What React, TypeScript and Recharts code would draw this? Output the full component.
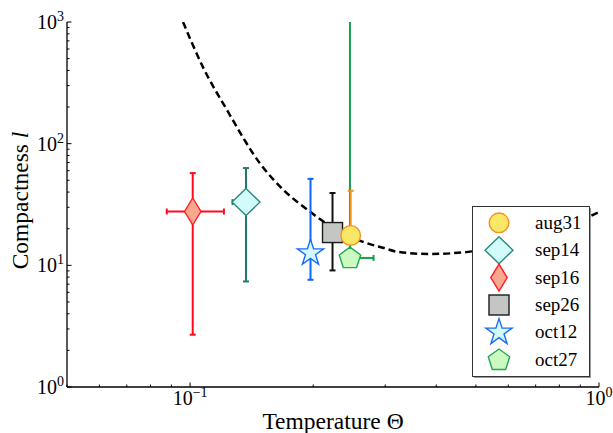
import React from 'react';
import { ComposedChart, Line, Scatter, XAxis, YAxis, ErrorBar, Legend } from 'recharts';

// ---- data ----
const seriesNames = ['aug31', 'sep14', 'sep16', 'sep26', 'oct12', 'oct27'];
const temperature = [0.247, 0.137, 0.1015, 0.223, 0.197, 0.246];
const compactness = [17.6, 33.1, 27.7, 18.6, 12.6, 11.5];
const temperatureLow = [0.247, 0.127, 0.0877, 0.223, 0.197, 0.246];
const temperatureHigh = [0.247, 0.142, 0.121, 0.223, 0.197, 0.281];
const compactnessLow = [17.6, 7.37, 2.69, 9.08, 7.61, 11.5];
const compactnessHigh = [41.0, 63.0, 57.3, 39.3, 51.4, 1000];

const curveTemperature = [0.0961, 0.1078, 0.123, 0.148, 0.169, 0.1965, 0.2114, 0.265, 0.296, 0.3225, 0.386, 0.478, 0.6, 0.75, 0.967, 1.0];
const curveCompactness = [1000, 418, 190, 69.3, 41.8, 27.6, 23, 15.6, 13.95, 12.9, 12.4, 12.9, 15, 18.5, 26, 27.5];

const xTicks = [0.05, 0.06, 0.07, 0.08, 0.09, 0.1, 0.2, 0.3, 0.4, 0.5, 0.6, 0.7, 0.8, 0.9, 1];
const xMajor = [0.1, 1];
const xMajorLabels = ['\u22121', '0'];
const yTicks = [1, 2, 3, 4, 5, 6, 7, 8, 9, 10, 20, 30, 40, 50, 60, 70, 80, 90, 100, 200, 300, 400, 500, 600, 700, 800, 900, 1000];
const yMajor = [1, 10, 100, 1000];
const yMajorLabels = ['0', '1', '2', '3'];

const xLabelText = 'Temperature \u0398';
const yLabelText = 'Compactness ';
const yLabelSymbol = 'l';

// render order (z-order) and legend order
const drawOrder = ['sep14', 'sep16', 'sep26', 'oct12', 'oct27', 'aug31'];
const legendOrder = ['aug31', 'sep14', 'sep16', 'sep26', 'oct12', 'oct27'];

// ---- styles ----
const FONT = '"Liberation Serif", serif';
const styles: Record<string, { kind: string; fill: string; stroke: string; bar: string; capY: number }> = {
  aug31: { kind: 'circle', fill: '#f9e866', stroke: '#f5921e', bar: '#f5921e', capY: 3 },
  sep14: { kind: 'diamond', fill: '#d2fbfb', stroke: '#2a8a7a', bar: '#1f7a68', capY: 3 },
  sep16: { kind: 'thin_diamond', fill: '#f9a88e', stroke: '#ff1a26', bar: '#ff0a1e', capY: 3 },
  sep26: { kind: 'square', fill: '#c4c6c4', stroke: '#1a1a1a', bar: '#111111', capY: 3 },
  oct12: { kind: 'star', fill: '#d5f8fc', stroke: '#1a6cf5', bar: '#0a66ff', capY: 3 },
  oct27: { kind: 'pentagon', fill: '#ccf9c0', stroke: '#1fa855', bar: '#14a04c', capY: 0 },
};

const curveData = curveTemperature.map((t, i) => ({ t, l: curveCompactness[i] }));
const seriesData: Record<string, any[]> = {};
seriesNames.forEach((name, i) => {
  seriesData[name] = [
    {
      t: temperature[i],
      l: compactness[i],
      ex: [temperature[i] - temperatureLow[i], temperatureHigh[i] - temperature[i]],
      ey: [compactness[i] - compactnessLow[i], compactnessHigh[i] - compactness[i]],
    },
  ];
});

function polyPoints(cx: number, cy: number, n: number, R: number, r?: number) {
  const pts: string[] = [];
  const count = r ? n * 2 : n;
  for (let k = 0; k < count; k++) {
    const a = -Math.PI / 2 + (k * Math.PI * 2) / count;
    const rad = r && k % 2 === 1 ? r : R;
    pts.push(`${cx + rad * Math.cos(a)},${cy + rad * Math.sin(a)}`);
  }
  return pts.join(' ');
}

function Marker({ kind, cx, cy, fill, stroke }: { kind: string; cx: number; cy: number; fill: string; stroke: string }) {
  const sw = 1.4;
  switch (kind) {
    case 'circle':
      return <circle cx={cx} cy={cy} r={9.8} fill={fill} stroke={stroke} strokeWidth={sw} />;
    case 'diamond':
      return <polygon points={`${cx},${cy - 13.5} ${cx + 14},${cy} ${cx},${cy + 13.5} ${cx - 14},${cy}`} fill={fill} stroke={stroke} strokeWidth={sw} />;
    case 'thin_diamond':
      return <polygon points={`${cx},${cy - 13.5} ${cx + 8.2},${cy} ${cx},${cy + 13.5} ${cx - 8.2},${cy}`} fill={fill} stroke={stroke} strokeWidth={sw} />;
    case 'square':
      return <rect x={cx - 10} y={cy - 10} width={20} height={20} fill={fill} stroke={stroke} strokeWidth={sw} />;
    case 'star':
      return <polygon points={polyPoints(cx, cy, 5, 13.8, 13.8 * 0.382)} fill={fill} stroke={stroke} strokeWidth={sw} strokeLinejoin="miter" />;
    case 'pentagon':
      return <polygon points={polyPoints(cx, cy + 0.5, 5, 11.3)} fill={fill} stroke={stroke} strokeWidth={sw} />;
    default:
      return null;
  }
}

function findIdx(arr: number[], v: number) {
  return arr.findIndex((m) => Math.abs(m - v) < 1e-9);
}

const textStyle = { fontFamily: FONT };

function XTick(props: any) {
  const { x, y, payload, side } = props;
  const v = payload.value;
  const idx = findIdx(xMajor, v);
  const major = idx >= 0;
  const len = major ? 4.5 : 2.5;
  const dir = side === 'bottom' ? -1 : 1;
  return (
    <g>
      <line x1={x} y1={y} x2={x} y2={y + dir * len} stroke="#000" strokeWidth={1} />
      {side === 'bottom' && major && (
        <text x={x} y={y + 18} textAnchor="middle" style={textStyle} fontSize={20} fill="#000">
          10
          <tspan dy={-8} fontSize={14}>{xMajorLabels[idx]}</tspan>
        </text>
      )}
    </g>
  );
}

function YTick(props: any) {
  const { x, y, payload, side } = props;
  const v = payload.value;
  const idx = findIdx(yMajor, v);
  const major = idx >= 0;
  const len = major ? 4.5 : 2.5;
  const dir = side === 'left' ? 1 : -1;
  return (
    <g>
      <line x1={x} y1={y} x2={x + dir * len} y2={y} stroke="#000" strokeWidth={1} />
      {side === 'left' && major && (
        <text x={x - 3} y={y + 7} textAnchor="end" style={textStyle} fontSize={20} fill="#000">
          10
          <tspan dy={-8} fontSize={14}>{yMajorLabels[idx]}</tspan>
        </text>
      )}
    </g>
  );
}

function XLabel(props: any) {
  const vb = props.viewBox;
  return (
    <text x={vb.x + vb.width / 2} y={vb.y + 42} textAnchor="middle" style={textStyle} fontSize={23.5} fill="#000">
      {xLabelText}
    </text>
  );
}

function YLabel(props: any) {
  const vb = props.viewBox;
  const cx = 28;
  const cy = vb.y + vb.height / 2 - 4;
  return (
    <text x={cx} y={cy} transform={`rotate(-90, ${cx}, ${cy})`} textAnchor="middle" style={textStyle} fontSize={23.5} fill="#000">
      {yLabelText}
      <tspan fontStyle="italic">{yLabelSymbol}</tspan>
    </text>
  );
}

function LegendBox() {
  return (
    <svg width={120} height={173} style={{ display: 'block', overflow: 'visible' }}>
      <rect x={2} y={2} width={117} height={170} fill="#999" />
      <rect x={0.5} y={0.5} width={117} height={170} fill="#fff" stroke="#333" strokeWidth={1} />
      {legendOrder.map((name, i) => {
        const cy = 16.8 + i * 27.4;
        const s = styles[name];
        return (
          <g key={name}>
            <Marker kind={s.kind} cx={27} cy={cy} fill={s.fill} stroke={s.stroke} />
            <text x={63} y={cy + 6} style={textStyle} fontSize={19} fill="#000">
              {name}
            </text>
          </g>
        );
      })}
    </svg>
  );
}

const axisLine = { stroke: '#000', strokeWidth: 1.3 };

export default function App() {
  return (
    <div style={{ position: 'absolute', left: 0, top: 0, width: 613, height: 433, background: '#fff' }}>
      <ComposedChart width={613} height={433} margin={{ top: 22, right: 14, bottom: 0, left: 0 }}>
        <XAxis
          dataKey="t"
          type="number"
          scale="log"
          domain={[0.05, 1]}
          allowDataOverflow
          ticks={xTicks}
          interval={0}
          height={46}
          tickSize={0}
          tickMargin={0}
          axisLine={axisLine}
          tickLine={false}
          tick={(p: any) => <XTick {...p} side="bottom" />}
          label={{ content: XLabel }}
        />
        <XAxis
          xAxisId="top"
          orientation="top"
          dataKey="t"
          type="number"
          scale="log"
          domain={[0.05, 1]}
          allowDataOverflow
          ticks={xTicks}
          interval={0}
          height={0}
          tickSize={0}
          tickMargin={0}
          axisLine={axisLine}
          tickLine={false}
          tick={(p: any) => <XTick {...p} side="top" />}
        />
        <YAxis
          dataKey="l"
          type="number"
          scale="log"
          domain={[1, 1000]}
          allowDataOverflow
          ticks={yTicks}
          interval={0}
          width={67}
          tickSize={0}
          tickMargin={0}
          axisLine={axisLine}
          tickLine={false}
          tick={(p: any) => <YTick {...p} side="left" />}
          label={{ content: YLabel }}
        />
        <YAxis
          yAxisId="right"
          orientation="right"
          dataKey="l"
          type="number"
          scale="log"
          domain={[1, 1000]}
          allowDataOverflow
          ticks={yTicks}
          interval={0}
          width={0}
          tickSize={0}
          tickMargin={0}
          axisLine={axisLine}
          tickLine={false}
          tick={(p: any) => <YTick {...p} side="right" />}
        />
        <Line
          data={curveData}
          dataKey="l"
          type="monotone"
          stroke="#000"
          strokeWidth={2.5}
          strokeDasharray="7 4"
          dot={false}
          activeDot={false}
          legendType="none"
          isAnimationActive={false}
        />
        {drawOrder.map((name) => {
          const s = styles[name];
          return (
            <Scatter
              key={name}
              name={name}
              data={seriesData[name]}
              isAnimationActive={false}
              shape={(p: any) => <Marker kind={s.kind} cx={p.cx} cy={p.cy} fill={s.fill} stroke={s.stroke} />}
            >
              <ErrorBar dataKey="ex" direction="x" width={3} stroke={s.bar} strokeWidth={2} isAnimationActive={false} />
              <ErrorBar dataKey="ey" direction="y" width={s.capY} stroke={s.bar} strokeWidth={2} isAnimationActive={false} />
            </Scatter>
          );
        })}
        <Legend
          layout="vertical"
          align="center"
          verticalAlign="middle"
          content={() => <LegendBox />}
          wrapperStyle={{ left: 472, top: 206, width: 120, height: 173 }}
        />
      </ComposedChart>
    </div>
  );
}
